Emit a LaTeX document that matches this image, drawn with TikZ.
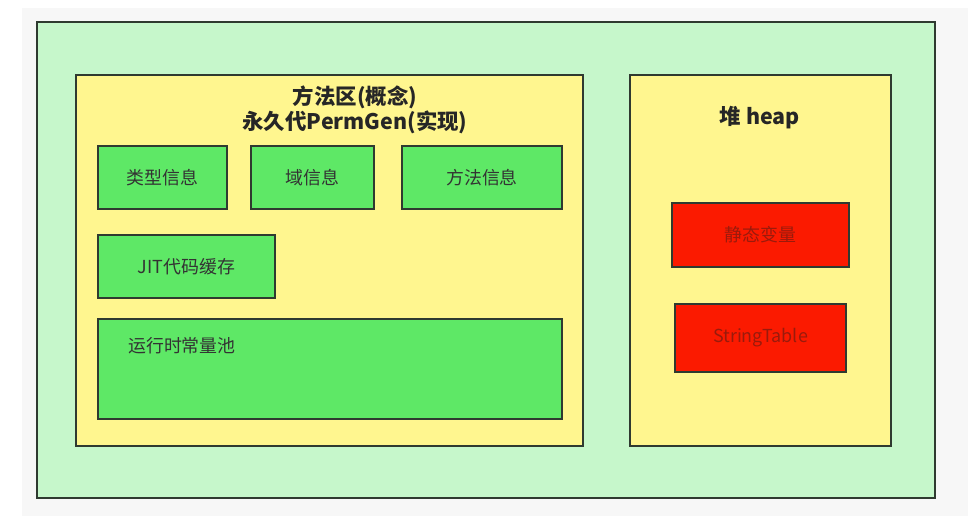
\documentclass[tikz,border=0pt]{standalone}
\usepackage{fontspec}
\setmainfont{Noto Sans CJK SC}
\usepackage{tikz}
\usetikzlibrary{positioning}
\definecolor{jvmgreen}{HTML}{C6F7CB}
\definecolor{areayellow}{HTML}{FFF68F}
\definecolor{infogreen}{HTML}{5EE866}
\definecolor{heapred}{HTML}{FB1A00}
\definecolor{edgegray}{HTML}{2F3A30}
\definecolor{redtext}{HTML}{9A1A0C}
\tikzset{
    region/.style = {rectangle, draw=edgegray, line width=1.4pt, fill=jvmgreen},
    area/.style = {rectangle, draw=edgegray, line width=1.4pt, fill=areayellow},
    infobox/.style = {rectangle, draw=edgegray, line width=1.4pt, fill=infogreen, text=black!80, font=\fontsize{10.2}{12}\selectfont},
    heapbox/.style = {rectangle, draw=edgegray, line width=1.4pt, fill=heapred, text=redtext, font=\fontsize{10.2}{12}\selectfont},
    areatitle/.style = {align=center, text=black!85, font=\bfseries\fontsize{12.2}{14.3}\selectfont}
}
\begin{document}
\begin{tikzpicture}[x=0.02cm,y=-0.02cm]
%
\path[use as bounding box,fill=white] (0,0) rectangle (974,520);
\fill[black!3] (22,8) rectangle (968,516);
%
\node[region,minimum width=17.96cm,minimum height=9.52cm] at (486,260) (jvm) {};
\node[area,minimum width=10.14cm,minimum height=7.42cm] at (329.5,260.5) (method) {};
\node[area,minimum width=5.22cm,minimum height=7.42cm] at (760.5,260.5) (heap) {};
%
\node[areatitle] at (355,110) (methodtitle) {方法区(概念)\\永久代PermGen(实现)};
\node[areatitle] at (760,118) (heaptitle) {堆 heap};
%
\node[infobox,minimum width=2.58cm,minimum height=1.26cm] at (162.5,177.5) (type) {类型信息};
\node[infobox,minimum width=2.46cm,minimum height=1.26cm] at (312.5,177.5) (field) {域信息};
\node[infobox,minimum width=3.2cm,minimum height=1.26cm] at (482,177.5) (methodinfo) {方法信息};
\node[infobox,minimum width=3.54cm,minimum height=1.26cm] at (186.5,266.5) (jit) {JIT代码缓存};
\node[infobox,minimum width=9.28cm,minimum height=2cm] at (330,369) (pool) {};
\node[anchor=west,text=black!80,font=\fontsize{10.2}{12}\selectfont] at (122,346) (pooltext) {运行时常量池};
%
\node[heapbox,minimum width=3.54cm,minimum height=1.28cm] at (760.5,235) (static) {静态变量};
\node[heapbox,minimum width=3.42cm,minimum height=1.36cm] at (760.5,338) (strtable) {StringTable};

\end{tikzpicture}
\end{document}
